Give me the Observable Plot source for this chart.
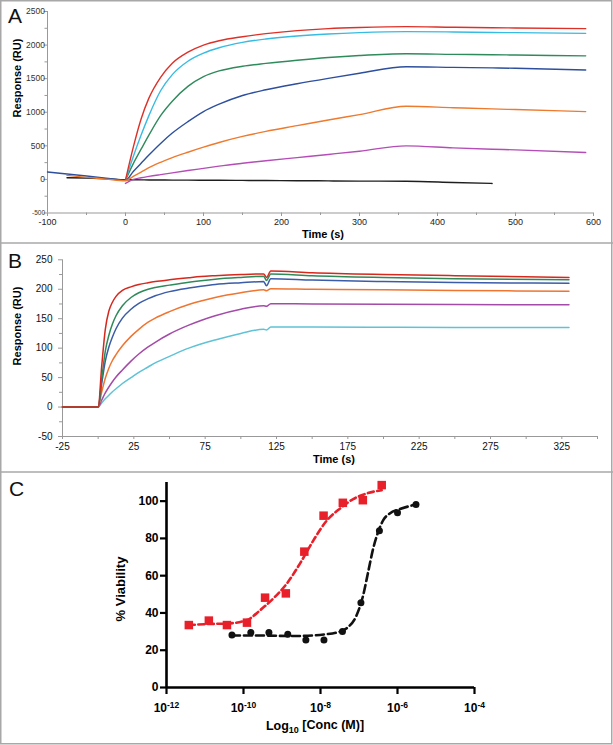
<!DOCTYPE html>
<html><head><meta charset="utf-8">
<script src="https://cdn.jsdelivr.net/npm/d3@7"></script>
<script src="https://cdn.jsdelivr.net/npm/@observablehq/plot@0.6"></script>
<style>
body{margin:0;background:#fff;}
#fig{position:relative;width:613px;height:745px;overflow:hidden;background:#fff;}
#fig > svg{position:absolute;left:0;}
</style></head><body><div id="fig"></div><script>
const FONT = '"Liberation Sans", Arial, Helvetica, sans-serif';

// ---------- Panel A : sensorgram ----------
const aTime    = [-100, -75, -50, -25, 0, 10, 20, 30, 45, 60, 80, 100, 120, 150, 180, 220, 260, 300, 360, 420, 470, 500, 590];
const aBlack   = [null, 25, 20, 10, -5, -6, -7, -8, -9, -10, -11, -12, -13, -15, -17, -19, -22, -25, -28, -45, -60, null, null];
const aBlue    = [110, 80, 50, 20, -10, 118, 240, 362, 535, 690, 860, 1010, 1120, 1250, 1335, 1425, 1505, 1580, 1678, 1668, 1660, 1655, 1630];
const aMagenta = [null, null, null, null, -60, 0, 25, 45, 72, 98, 132, 165, 198, 240, 278, 325, 372, 420, 500, 470, 450, 440, 400];
const aGreen   = [null, null, null, null, -10, 235, 450, 660, 950, 1165, 1385, 1530, 1615, 1685, 1728, 1775, 1815, 1845, 1870, 1862, 1856, 1852, 1840];
const aCyan    = [null, null, null, null, -10, 340, 660, 950, 1320, 1560, 1760, 1880, 1960, 2040, 2090, 2135, 2165, 2185, 2200, 2195, 2188, 2185, 2175];
const aRed     = [null, null, null, null, -10, 480, 900, 1210, 1520, 1730, 1895, 2000, 2065, 2125, 2170, 2215, 2245, 2262, 2275, 2265, 2258, 2255, 2245];
const aOrange  = [null, 60, 30, 5, -20, 45, 110, 175, 255, 325, 405, 480, 550, 640, 715, 800, 885, 965, 1090, 1068, 1050, 1040, 1010];
const aYTicks  = [-500, 0, 500, 1000, 1500, 2000, 2500];
const aYMinor  = [-250, 250, 750, 1250, 1750, 2250];
const aXTicks  = [-100, 0, 100, 200, 300, 400, 500, 600];
const aXMinor  = [-50, 50, 150, 250, 350, 450, 550];

// ---------- Panel B : sensorgram ----------
const bTime    = [-25, 0, 2.5, 5, 7.5, 10, 12.5, 17, 23, 28.5, 35, 40, 50, 63.5, 72, 82, 100, 116, 118, 121, 150, 200, 250, 330];
const bCyan    = [0, 0, 7, 14, 20, 26, 31, 40, 50, 59, 68, 75, 86, 100, 107, 114, 125, 132, 131, 136, 136, 135.5, 135, 135];
const bMagenta = [0, 0, 12, 24, 34, 43, 51, 63, 78, 90, 102, 110, 124, 139, 147, 155, 166, 172, 171, 175.5, 175, 174.5, 174, 173.5];
const bOrange  = [0, 0, 26, 49, 66, 79, 89, 104, 120, 132, 144, 151, 162, 174, 180, 186, 194, 199, 197.5, 201, 200, 199, 198, 196.5];
const bBlue    = [0, 0, 40, 78, 102, 119, 133, 151, 166, 176, 184, 189, 196, 202, 205, 208, 211, 213, 206, 218, 215.5, 213, 211.5, 210];
const bGreen   = [0, 0, 48, 95, 122, 141, 155, 172, 186, 194, 200, 203, 207, 212, 214.5, 217, 220, 222, 215, 226, 223, 220, 218, 216];
const bRed     = [0, 0, 70, 132, 163, 178, 188, 198, 204, 208, 211, 213, 216, 219.5, 221.5, 223, 225, 226, 220, 231, 228, 225, 223, 220];
const bYTicks  = [-50, 0, 50, 100, 150, 200, 250];
const bYMinor  = [-25, 25, 75, 125, 175, 225];
const bXTicks  = [-25, 25, 75, 125, 175, 225, 275, 325];
const bXMinor  = [0, 50, 100, 150, 200, 250, 300, 350];

// ---------- Panel C : viability ----------
const redLogConc     = [-11.42, -10.90, -10.43, -9.91, -9.44, -8.90, -8.42, -7.92, -7.42, -6.90, -6.41];
const redViability   = [33.5, 35.9, 33.5, 34.8, 48.2, 50.5, 72.9, 92.2, 99.1, 100.5, 108.6];
const blackLogConc   = [-10.30, -9.81, -9.34, -8.85, -8.38, -7.91, -7.43, -6.95, -6.47, -6.00, -5.52];
const blackViability = [28.2, 29.5, 29.5, 28.6, 25.5, 25.5, 30.0, 45.5, 84.1, 93.8, 98.2];
const redFitLog   = [-11.42, -10.86, -10.43, -9.91, -9.56, -9.22, -8.87, -8.53, -8.18, -7.84, -7.49, -7.15, -6.80, -6.41];
const redFitY     = [33.5, 34.1, 34.3, 36.2, 41.6, 47.9, 55.9, 66.6, 79.1, 89.5, 96.1, 101.1, 104.1, 105.9];
const blackFitLog = [-10.30, -9.56, -8.70, -7.84, -7.58, -7.32, -7.06, -6.89, -6.76, -6.63, -6.50, -6.37, -6.20, -5.94, -5.52];
const blackFitY   = [27.9, 27.9, 27.6, 28.6, 29.5, 31.8, 38.9, 49.6, 62.2, 74.7, 83.6, 89.8, 93.4, 95.7, 98.2];
const cYTicks = [0, 20, 40, 60, 80, 100];
const cXTicks = [1e-12, 1e-10, 1e-8, 1e-6, 1e-4];

// ---------- helpers ----------
const rows = (times, values) => times.map((t, i) => ({t, v: values[i]})).filter(d => d.v != null);
const fig = document.getElementById("fig");
const ns = "http://www.w3.org/2000/svg";

const aSeries = [
  [aBlack, "#1e1e1e"], [aBlue, "#2d4f9e"], [aMagenta, "#b44db6"], [aGreen, "#2f8a5c"],
  [aCyan, "#38bbe2"], [aRed, "#dd3128"], [aOrange, "#ee7a2e"]
];
const bSeries = [
  [bCyan, "#5fc2d6"], [bMagenta, "#a44aa8"], [bOrange, "#ef7530"],
  [bBlue, "#3b5ca8"], [bGreen, "#2f8a5a"], [bRed, "#d6281c"]
];

const plotA = Plot.plot({
  width: 613, height: 243,
  marginLeft: 47, marginRight: 20, marginTop: 11, marginBottom: 30.5,
  x: {domain: [-100, 600]}, y: {domain: [-500, 2500]},
  style: {fontFamily: FONT, background: "transparent", color: "#222"},
  marks: [
    Plot.axisY(aYMinor, {tickSize: 2.5, tickFormat: () => "", stroke: "#999", label: null}),
    Plot.axisY(aYTicks, {tickSize: 3.5, tickPadding: -1, fontSize: 8.5, stroke: "#999", fill: "#333", tickFormat: d => String(d), label: null}),
    Plot.axisX(aXMinor, {tickSize: 2.5, tickFormat: () => "", stroke: "#999", label: null}),
    Plot.axisX(aXTicks, {tickSize: 3.5, tickPadding: 2.5, fontSize: 9, stroke: "#999", fill: "#222", tickFormat: d => String(d), label: null}),
    Plot.ruleX([-100], {stroke: "#999"}),
    Plot.ruleY([-500], {stroke: "#999"}),
    ...aSeries.map(([vals, c]) => Plot.line(rows(aTime, vals), {x: "t", y: "v", stroke: c, strokeWidth: 1.4, curve: "monotone-x"}))
  ]
});
plotA.style.top = "0px";
fig.appendChild(plotA);
plotA.querySelectorAll("text").forEach(t => { if (t.textContent === "-500") t.setAttribute("font-size", "6.5"); });

const plotB = Plot.plot({
  width: 613, height: 229,
  marginLeft: 62, marginRight: 16, marginTop: 16.3, marginBottom: 36,
  x: {domain: [-25, 350]}, y: {domain: [-50, 250]},
  style: {fontFamily: FONT, background: "transparent", color: "#111"},
  marks: [
    Plot.axisY(bYMinor, {tickSize: 3, tickFormat: () => "", stroke: "#999", label: null}),
    Plot.axisY(bYTicks, {tickSize: 4, tickPadding: 6, fontSize: 10, stroke: "#999", fill: "#111", tickFormat: d => String(d), label: null}),
    Plot.axisX(bXMinor, {tickSize: 3, tickFormat: () => "", stroke: "#999", label: null}),
    Plot.axisX(bXTicks, {tickSize: 3, tickPadding: 3, fontSize: 10, stroke: "#999", fill: "#111", tickFormat: d => String(d), label: null}),
    Plot.ruleX([-25], {stroke: "#999"}),
    Plot.ruleY([-50], {stroke: "#999"}),
    ...bSeries.map(([vals, c]) => Plot.line(rows(bTime, vals), {x: "t", y: "v", stroke: c, strokeWidth: 1.5, curve: "monotone-x"}))
  ]
});
plotB.style.top = "243px";
fig.appendChild(plotB);

const cRed = "#e8202a";
const redPts   = redLogConc.map((l, i) => ({x: 10 ** l, y: redViability[i]}));
const blackPts = blackLogConc.map((l, i) => ({x: 10 ** l, y: blackViability[i]}));
const redFit   = redFitLog.map((l, i) => ({x: 10 ** l, y: redFitY[i]}));
const blackFit = blackFitLog.map((l, i) => ({x: 10 ** l, y: blackFitY[i]}));

const plotC = Plot.plot({
  width: 613, height: 273,
  marginLeft: 166, marginRight: 139, marginTop: 10, marginBottom: 58,
  x: {type: "log", domain: [1e-12, 1e-4]}, y: {domain: [0, 110]},
  style: {fontFamily: FONT, background: "transparent", color: "#000"},
  marks: [
    Plot.axisY(cYTicks, {tickSize: 6, tickPadding: 2, strokeWidth: 2.2, fontSize: 12, fontWeight: "bold", tickFormat: d => String(d), label: null}),
    Plot.axisX(cXTicks, {tickSize: 7, tickPadding: 9, strokeWidth: 2.2, fontSize: 12, fontWeight: "bold", tickFormat: d => "10^" + Math.round(Math.log10(d)), label: null}),
    Plot.ruleX([1e-12], {strokeWidth: 2.6}),
    Plot.ruleY([0], {strokeWidth: 2.6}),
    Plot.line(redFit, {x: "x", y: "y", stroke: cRed, strokeWidth: 2.6, strokeDasharray: "6,3.5", curve: "monotone-x"}),
    Plot.line(blackFit, {x: "x", y: "y", stroke: "#111", strokeWidth: 2.6, strokeDasharray: "8,4", curve: "monotone-x"}),
    Plot.dot(blackPts, {x: "x", y: "y", r: 3.5, fill: "#111", symbol: "circle"}),
    Plot.dot(redPts, {x: "x", y: "y", r: 4.8, fill: cRed, symbol: "square"})
  ]
});
plotC.style.top = "472px";
fig.appendChild(plotC);
plotC.querySelectorAll('g[aria-label="x-axis tick label"] text').forEach(t => {
  const s = t.textContent;
  if (!s.includes("^")) return;
  const [base, exp] = s.split("^");
  t.textContent = "";
  const a = document.createElementNS(ns, "tspan"); a.textContent = base;
  const b = document.createElementNS(ns, "tspan"); b.textContent = exp;
  b.setAttribute("dy", "-0.45em"); b.setAttribute("font-size", "8.5");
  t.append(a, b);
});

// ---------- overlay: frame, panel letters, axis titles ----------
const ov = d3.create("svg").attr("width", 613).attr("height", 745)
  .style("position", "absolute").style("top", "0px").style("left", "0px")
  .style("pointer-events", "none").style("font-family", FONT);
const frame = ov.append("g").attr("stroke", "#a8a8a8").attr("stroke-width", 1.5).attr("fill", "none");
frame.append("rect").attr("x", 0.75).attr("y", 0.75).attr("width", 611).attr("height", 743);
frame.append("line").attr("x1", 0).attr("x2", 613).attr("y1", 243).attr("y2", 243);
frame.append("line").attr("x1", 0).attr("x2", 613).attr("y1", 472).attr("y2", 472);

const letters = [["A", 8, 23], ["B", 8, 268], ["C", 9, 496]];
letters.forEach(([s, x, y]) => ov.append("text").attr("x", x).attr("y", y).attr("font-size", 21).attr("fill", "#111").text(s));

const vtitle = (s, cx, cy, size, weight) => ov.append("text")
  .attr("transform", `translate(${cx},${cy}) rotate(-90)`).attr("text-anchor", "middle")
  .attr("dy", "0.35em").attr("font-size", size).attr("font-weight", weight).attr("fill", "#000").text(s);
const htitle = (s, cx, y, size, weight) => ov.append("text")
  .attr("x", cx).attr("y", y).attr("text-anchor", "middle")
  .attr("font-size", size).attr("font-weight", weight).attr("fill", "#000").text(s);

vtitle("Response (RU)", 17, 78, 11, "bold");
htitle("Time (s)", 323, 237.5, 11, "bold");
vtitle("Response (RU)", 17, 326, 11, "bold");
htitle("Time (s)", 334, 462.5, 11, "bold");
vtitle("%  Viability", 120, 589, 13, "bold");
const xl = ov.append("text").attr("x", 315).attr("y", 730).attr("text-anchor", "middle")
  .attr("font-size", 12.5).attr("font-weight", "bold").attr("fill", "#000");
xl.append("tspan").text("Log");
xl.append("tspan").attr("dy", "0.3em").attr("font-size", 9).text("10");
xl.append("tspan").attr("dy", "-0.3em").text(" [Conc (M)]");

fig.appendChild(ov.node());
</script></body></html>
